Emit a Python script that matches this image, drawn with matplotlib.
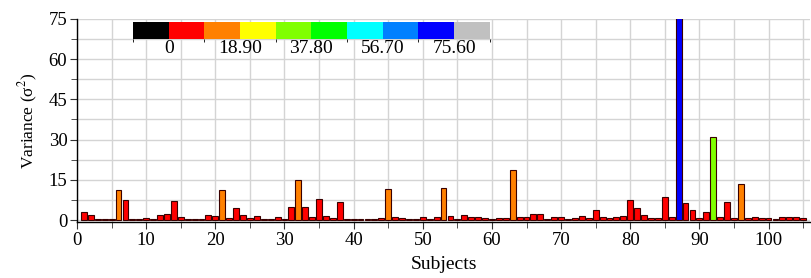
import matplotlib
matplotlib.use("Agg")
import matplotlib.pyplot as plt
import numpy as np
from matplotlib.colors import ListedColormap, BoundaryNorm
from matplotlib.ticker import MultipleLocator

plt.rcParams['font.family'] = ['Liberation Serif', 'DejaVu Serif']
plt.rcParams['mathtext.fontset'] = 'stix'

# variance per subject (1..105)
variance = [
    2.9, 1.75, 0.3, 0.3, 0.4, 11.1, 7.5, 0.4, 0.4, 0.75,
    0.4, 2.0, 2.4, 7.0, 1.25, 0.3, 0.4, 0.3, 2.0, 1.6,
    11.1, 0.6, 4.4, 1.75, 0.9, 1.4, 0.3, 0.3, 1.0, 0.5,
    4.75, 14.9, 4.9, 1.1, 7.75, 1.4, 0.6, 6.75, 0.4, 0.3,
    0.3, 0.3, 0.3, 0.6, 11.5, 1.0, 0.6, 0.4, 0.4, 1.25,
    0.4, 1.0, 12.0, 1.4, 0.4, 1.75, 1.0, 1.0, 0.6, 0.4,
    0.6, 0.9, 18.8, 1.0, 1.3, 2.2, 2.3, 0.5, 1.1, 1.1,
    0.5, 0.75, 1.6, 0.9, 3.9, 1.1, 0.75, 1.25, 1.6, 7.6,
    4.6, 2.0, 0.9, 0.6, 8.6, 1.1, 75.3, 6.25, 3.9, 0.6,
    2.9, 30.9, 1.0, 6.6, 0.6, 13.6, 0.9, 1.25, 0.75, 0.75,
    0.5, 1.0, 1.25, 1.25, 0.6,
]
subjects = np.arange(1, len(variance) + 1)

level_colors = ['#000000', '#ff0000', '#ff8000', '#ffff00', '#80ff00',
                '#00ff00', '#00ffff', '#0080ff', '#0000ff', '#c0c0c0']
bounds = [-9.45 + 9.45 * i for i in range(11)]
cbar_ticks = [0, 18.9, 37.8, 56.7, 75.6]
cbar_labels = ['0', '18.90', '37.80', '56.70', '75.60']

cmap = ListedColormap(level_colors)
norm = BoundaryNorm(bounds, cmap.N)

fig = plt.figure(figsize=(8.11, 2.78), dpi=100)
ax = fig.add_axes([0.095, 0.2014, 0.9038, 0.7303])

colors = [cmap(norm(v)) for v in variance]
ax.bar(subjects, variance, width=0.85, color=colors, edgecolor='#3a0000',
       linewidth=0.8, zorder=3)

ax.set_xlim(0, 106)
ax.set_ylim(-0.75, 75)
ax.xaxis.set_major_locator(MultipleLocator(10))
ax.xaxis.set_minor_locator(MultipleLocator(5))
ax.yaxis.set_major_locator(MultipleLocator(15))
ax.yaxis.set_minor_locator(MultipleLocator(7.5))
ax.grid(True, which='both', color='#d4d4d4', linewidth=1.0, zorder=0)
ax.set_axisbelow(True)
for s in ['top', 'right']:
    ax.spines[s].set_visible(False)
ax.spines['left'].set_linewidth(1.0)
ax.spines['bottom'].set_linewidth(1.0)
ax.tick_params(which='both', direction='out', labelsize=13.5, color='#333333',
               pad=2)
ax.tick_params(which='major', length=5)
ax.tick_params(which='minor', length=4)

ax.set_xlabel('Subjects', fontsize=14, labelpad=5)
ax.set_ylabel('Variance (σ$^2$)', fontsize=12.5, labelpad=6)

# colour key
cax = fig.add_axes([0.164, 0.860, 0.440, 0.061])
cb = fig.colorbar(plt.cm.ScalarMappable(norm=norm, cmap=cmap), cax=cax,
                  orientation='horizontal', ticks=cbar_ticks)
cb.set_ticklabels(cbar_labels)
cb.outline.set_visible(False)
cax.tick_params(length=0, labelsize=14, pad=1)

fig.savefig('out.png', dpi=100)
